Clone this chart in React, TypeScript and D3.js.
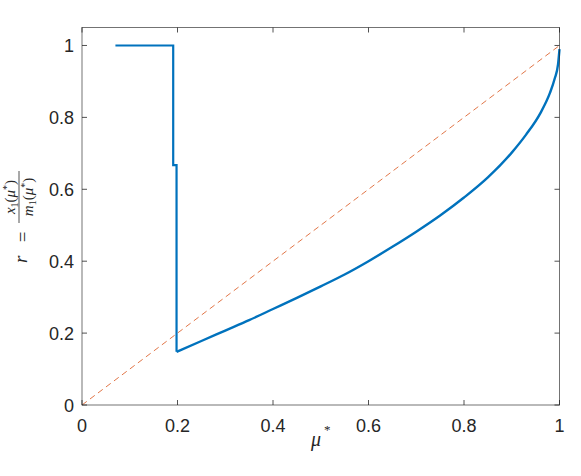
import React from "react";
import * as d3 from "d3";

const stepMu = [0.07, 0.191, 0.191, 0.198, 0.198];
const stepR = [1, 1, 0.667, 0.667, 0.148];
const curveMu = [0.198, 0.25, 0.3, 0.35, 0.4, 0.45, 0.5, 0.55, 0.6, 0.65, 0.7, 0.75, 0.8, 0.85, 0.9, 0.93, 0.96, 0.98, 0.99, 0.997, 1.0];
const curveR = [0.148, 0.178, 0.207, 0.236, 0.267, 0.298, 0.33, 0.363, 0.4, 0.44, 0.482, 0.527, 0.577, 0.633, 0.702, 0.752, 0.812, 0.868, 0.908, 0.948, 0.99];
const diagMu = [0, 1];
const diagR = [0, 1];
const xTicks = [0, 0.2, 0.4, 0.6, 0.8, 1];
const yTicks = [0, 0.2, 0.4, 0.6, 0.8, 1];
const xTickLabels = ["0", "0.2", "0.4", "0.6", "0.8", "1"];
const yTickLabels = ["0", "0.2", "0.4", "0.6", "0.8", "1"];

const L = 82, R = 559.5, T = 27.5, B = 405;

export default function App() {
  const x = d3.scaleLinear().domain([0, 1]).range([L, R]);
  const y = d3.scaleLinear().domain([0, 1.05]).range([B, T]);
  const stepPts: [number, number][] = stepMu.map((m, i) => [m, stepR[i]]);
  const curvePts: [number, number][] = curveMu.map((m, i) => [m, curveR[i]]);
  const line = d3.line<[number, number]>().x(d => x(d[0])).y(d => y(d[1]));
  const smooth = d3.line<[number, number]>().x(d => x(d[0])).y(d => y(d[1])).curve(d3.curveMonotoneX);
  const diag: [number, number][] = diagMu.map((m, i) => [m, diagR[i]]);
  const axisColor = "#262626";
  const tickFont = "'Liberation Sans', Arial, Helvetica, sans-serif";
  const mathFont = "'Liberation Serif', 'Times New Roman', serif";
  return (
    <svg width={581} height={476} style={{ position: "absolute", left: 0, top: 0, background: "#fff" }}>
      <rect x={0} y={0} width={581} height={476} fill="#fff" />
      <path d={line(diag) || ""} fill="none" stroke="#D95319" strokeWidth={0.8} strokeDasharray="6 4" />
      <path d={line(stepPts) || ""} fill="none" stroke="#0072BD" strokeWidth={2.2} strokeLinejoin="miter" />
      <path d={smooth(curvePts) || ""} fill="none" stroke="#0072BD" strokeWidth={2.4} />
      <rect x={L} y={T} width={R - L} height={B - T} fill="none" stroke={axisColor} strokeWidth={0.8} opacity={0.8} />
      {xTicks.map((t, i) => (
        <g key={"x" + i}>
          <line x1={x(t)} x2={x(t)} y1={B} y2={B - 5} stroke={axisColor} strokeWidth={0.8} />
          <line x1={x(t)} x2={x(t)} y1={T} y2={T + 5} stroke={axisColor} strokeWidth={0.8} />
          <text x={x(t)} y={432} textAnchor="middle" fontFamily={tickFont} fontSize={18} fill={axisColor}>{xTickLabels[i]}</text>
        </g>
      ))}
      {yTicks.map((t, i) => (
        <g key={"y" + i}>
          <line x1={L} x2={L + 5} y1={y(t)} y2={y(t)} stroke={axisColor} strokeWidth={0.8} />
          <line x1={R} x2={R - 5} y1={y(t)} y2={y(t)} stroke={axisColor} strokeWidth={0.8} />
          <text x={74} y={y(t) + 6.5} textAnchor="end" fontFamily={tickFont} fontSize={18} fill={axisColor}>{yTickLabels[i]}</text>
        </g>
      ))}
      <text x={311} y={446} fontFamily={mathFont} fontStyle="italic" fontSize={20} fill={axisColor}>μ</text>
      <text x={324} y={434} fontFamily={mathFont} fontSize={13} fill={axisColor}>*</text>
      <g transform="translate(0,215) rotate(-90)" fill={axisColor} fontFamily={mathFont}>
        <text x={-48} y={27} fontStyle="italic" fontSize={19}>r</text>
        <text x={-22} y={29} textAnchor="middle" fontSize={19}>=</text>
        <line x1={-8} x2={44} y1={19} y2={19} stroke={axisColor} strokeWidth={0.8} />
        <text x={18} y={15} textAnchor="middle" fontSize={15}>
          <tspan fontStyle="italic">x</tspan>
          <tspan fontSize={10} dy={3}>1</tspan>
          <tspan dy={-3}>(</tspan>
          <tspan fontStyle="italic">μ</tspan>
          <tspan fontSize={10} dy={-5}>*</tspan>
          <tspan dy={5}>)</tspan>
        </text>
        <text x={18} y={33} textAnchor="middle" fontSize={15}>
          <tspan fontStyle="italic">m</tspan>
          <tspan fontSize={10} dy={3}>1</tspan>
          <tspan dy={-3}>(</tspan>
          <tspan fontStyle="italic">μ</tspan>
          <tspan fontSize={10} dy={-5}>*</tspan>
          <tspan dy={5}>)</tspan>
        </text>
      </g>
    </svg>
  );
}
